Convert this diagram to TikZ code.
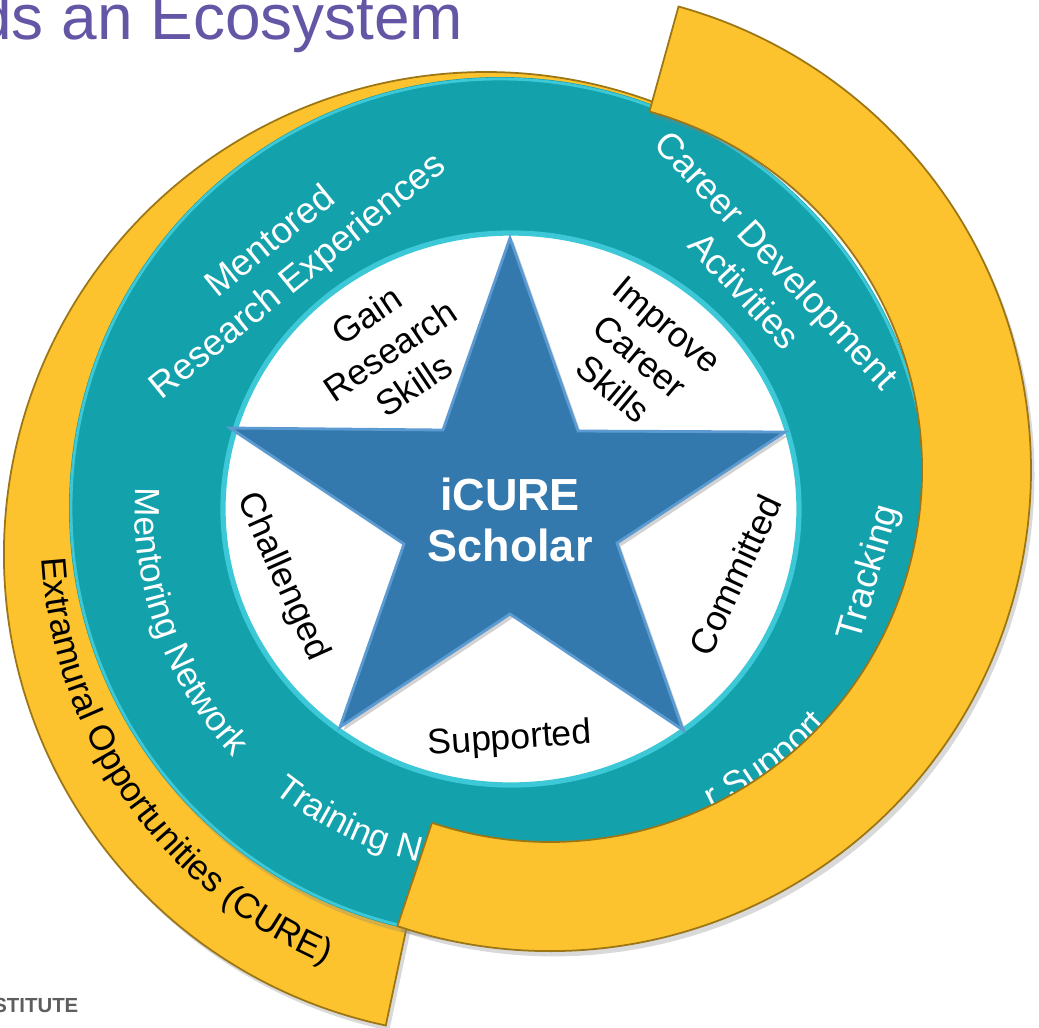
\documentclass[tikz,border=0pt]{standalone}
\usepackage{fontspec}
\setmainfont{Liberation Sans}
\usetikzlibrary{calc,decorations.text,shadows}
\definecolor{ringteal}{HTML}{13A1AC}
\definecolor{ringrim}{HTML}{3CC8D6}
\definecolor{bandgold}{HTML}{FDC32E}
\definecolor{bandedge}{HTML}{9C7614}
\definecolor{starblue}{HTML}{3479AE}
\definecolor{staredge}{HTML}{5C9BD2}
\definecolor{titlepurple}{HTML}{6455A5}
\definecolor{logogray}{HTML}{5E5E5E}
\def\ringfont{\fontsize{10}{12}\selectfont}
\def\band[#1](#2)(#3:#4:#5:#6){\draw[#1] ($(#2)+(#3:#5)$) arc (#3:#4:#5) -- ($(#2)+(#4:#6)$) arc (#4:#3:#6) -- cycle;}
\def\ringtext[#1](#2)(#3:#4:#5)#6{\path[decorate,decoration={text along path,#1,text={#6}}] ($(#2)+(#3:#5)$) arc (#3:#4:#5);}

\begin{document}
\begin{tikzpicture}[
	yellowband/.style={fill=bandgold, draw=bandedge, line width=0.5pt, drop shadow={opacity=0.3, shadow xshift=1pt, shadow yshift=-1.5pt}},
	ringlabel/.style={text=white, font=\fontsize{10.4}{12.6}\selectfont, align=center},
	corelabel/.style={text=black, font=\fontsize{10.1}{12}\selectfont, align=center}]
	%%%%% FRAME %%%%%
	\useasboundingbox (0,0) rectangle (10.39,-10.27);
	\clip (0,0) rectangle (10.39,-10.27);
	
	%%%%% BACK BAND %%%%%
	\band[yellowband](4.86,-5.54)(68:258:3.76:4.82)
	
	%%%%% TEAL RING %%%%%
	\fill[ringteal, drop shadow={opacity=0.3, shadow xshift=1pt, shadow yshift=-1.5pt}] (5.00,-5.08) circle (4.31);
	\draw[ringrim, line width=0.8pt] (5.00,-5.08) circle (4.29);
	\draw[fill=white, draw=ringrim, line width=1.5pt] (5.11,-5.09) ellipse (2.88 and 2.76);
	
	%%%%% STAR %%%%%
	\draw[fill=starblue, draw=staredge, line width=0.8pt, drop shadow={opacity=0.35, shadow xshift=1pt, shadow yshift=-1pt}] (5.10,-2.38) -- (5.78,-4.31) -- (7.85,-4.32) -- (6.17,-5.43) -- (6.83,-7.30) -- (5.10,-6.14) -- (3.40,-7.27) -- (4.04,-5.44) -- (2.30,-4.28) -- (4.43,-4.30) -- cycle;
	\node[text=white, font=\bfseries\fontsize{12.8}{14.5}\selectfont, align=center] (scholar) at (5.10,-5.20) {iCURE\\Scholar};
	
	%%%%% INNER WORDS %%%%%
	\node[corelabel, rotate=34] (gain) at (3.90,-3.50) {Gain\\Research\\Skills};
	\node[corelabel, rotate=-40] (improve) at (6.40,-3.57) {Improve\\Career\\Skills};
	\node[corelabel, rotate=-66] (challenged) at (2.82,-5.77) {Challenged};
	\node[corelabel, rotate=65] (committed) at (7.35,-5.75) {Committed};
	\node[corelabel, rotate=4] (supported) at (5.10,-7.40) {Supported};
	
	%%%%% RING WORDS %%%%%
	\node[ringlabel, rotate=39] (mentored) at (2.85,-2.60) {Mentored\\Research Experiences};
	\node[ringlabel, rotate=-47] (career) at (7.61,-2.75) {Career Development\\Activities};
	\node[ringlabel, rotate=74] (tracking) at (8.70,-5.73) {Tracking};
	\ringtext[text color=white,text align=center](5.00,-5.08)(165:235:3.65){|\ringfont|Mentoring Network}
	\ringtext[text color=white](5.00,-5.08)(231.5:290:3.63){|\ringfont|Training N}
	\ringtext[text color=white](5.50,-4.70)(-64.5:-20:3.76){|\ringfont|r Support}
	
	%%%%% FRONT BAND %%%%%
	\band[yellowband](5.50,-4.70)(74.5:-108.5:3.72:4.81)
	\ringtext[text color=black,text align=center](5.11,-5.32)(165:265:4.70){|\ringfont|Extramural Opportunities (CURE)}
	
	%%%%% TITLE %%%%%
	\node[anchor=base east, text=titlepurple, font=\fontsize{18.2}{21}\selectfont, inner sep=0pt] (title) at (4.64,-0.39) {ds an Ecosystem};
	\node[anchor=base east, text=logogray, font=\bfseries\fontsize{5.8}{7}\selectfont, inner sep=0pt] (logo) at (0.79,-10.12) {STITUTE};
\end{tikzpicture}
\end{document}
